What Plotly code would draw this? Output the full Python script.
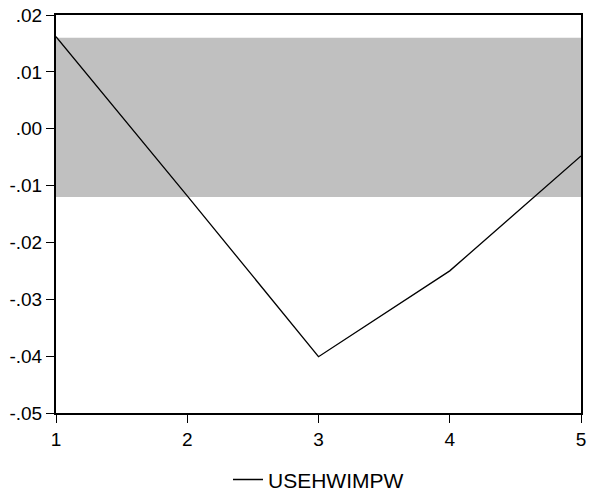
import plotly.graph_objects as go

periods = [1, 2, 3, 4, 5]
usehwimpw = [0.0162, -0.0118, -0.0401, -0.0250, -0.0048]
band_upper = 0.0160
band_lower = -0.0120
y_tickvals = [0.02, 0.01, 0.00, -0.01, -0.02, -0.03, -0.04, -0.05]
y_ticktext = [".02", ".01", ".00", "-.01", "-.02", "-.03", "-.04", "-.05"]
x_tickvals = [1, 2, 3, 4, 5]
x_ticktext = ["1", "2", "3", "4", "5"]

fig = go.Figure()
fig.add_trace(go.Scatter(
    x=periods, y=usehwimpw, mode="lines", name="USEHWIMPW",
    line=dict(color="black", width=1.3),
))
fig.add_shape(type="rect", xref="paper", yref="y", x0=0, x1=1,
              y0=band_lower, y1=band_upper, fillcolor="#C0C0C0",
              line=dict(width=0), layer="below")

fig.update_layout(
    width=589, height=495,
    margin=dict(l=56, r=8, t=15, b=82, autoexpand=False),
    paper_bgcolor="white", plot_bgcolor="white",
    font=dict(family="Arial, Liberation Sans", size=19, color="black"),
    showlegend=True,
    legend=dict(orientation="h", x=0.5, xanchor="center", y=-0.168, yanchor="middle",
                font=dict(size=21)),
)
fig.update_xaxes(range=[1, 5], tickvals=x_tickvals, ticktext=x_ticktext,
                 showline=True, linecolor="black", linewidth=2, mirror=True,
                 ticks="outside", ticklen=8, tickwidth=1.2, tickcolor="black",
                 showgrid=False, zeroline=False, ticklabeloverflow="allow")
fig.update_yaxes(range=[-0.05, 0.02], tickvals=y_tickvals, ticktext=y_ticktext,
                 showline=True, linecolor="black", linewidth=2, mirror=True,
                 ticks="outside", ticklen=8, tickwidth=1.2, tickcolor="black",
                 showgrid=False, zeroline=False, ticklabeloverflow="allow")

fig.write_html("out.html", config={"displayModeBar": False},
               post_script="document.body.style.margin='0';document.body.style.overflow='hidden';")
